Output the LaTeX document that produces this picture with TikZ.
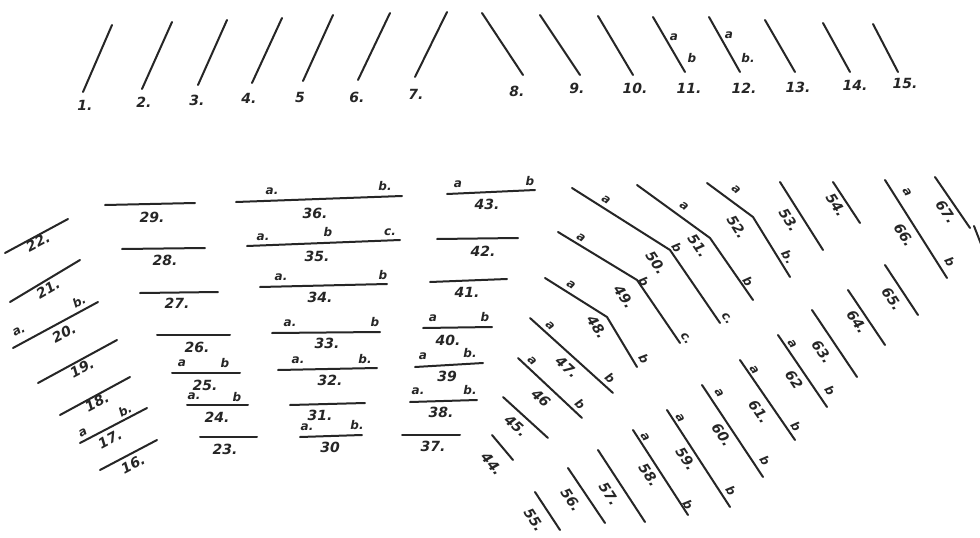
\documentclass[tikz,border=0pt]{standalone}
\usepackage{fontspec}
\setmainfont{DejaVu Sans}
\begin{document}
\begin{tikzpicture}[x=1pt,y=-1pt,
  ln/.style={line width=2pt, line cap=round, line join=round, black!85},
  lb/.style={font=\fontsize{14}{14}\selectfont\bfseries\itshape, inner sep=0pt, black!85},
  lt/.style={font=\fontsize{12}{12}\selectfont\bfseries\itshape, inner sep=0pt, black!85}]
\useasboundingbox (0,0) rectangle (980,538);
\fill[white] (0,0) rectangle (980,538);
% ---------- top row 1-7 ----------
\draw[ln] (112,25) -- (83,92);   \node[lb] (n1) at (85,105) {1.};
\draw[ln] (172,22) -- (142,89);  \node[lb] (n2) at (144,102) {2.};
\draw[ln] (227,20) -- (198,85);  \node[lb] (n3) at (197,100) {3.};
\draw[ln] (282,18) -- (252,83);  \node[lb] (n4) at (249,98) {4.};
\draw[ln] (333,15) -- (303,81);  \node[lb] (n5) at (300,97) {5};
\draw[ln] (390,13) -- (358,80);  \node[lb] (n6) at (357,97) {6.};
\draw[ln] (447,12) -- (415,77);  \node[lb] (n7) at (416,94) {7.};
% ---------- top row 8-15 ----------
\draw[ln] (482,13) -- (523,75);  \node[lb] (n8) at (517,91) {8.};
\draw[ln] (540,15) -- (580,75);  \node[lb] (n9) at (577,88) {9.};
\draw[ln] (598,16) -- (633,75);  \node[lb] (n10) at (635,88) {10.};
\draw[ln] (653,17) -- (685,72);  \node[lb] (n11) at (689,88) {11.};
\node[lt] (n11a) at (674,37) {a}; \node[lt] (n11b) at (692,58) {b};
\draw[ln] (709,17) -- (740,72);  \node[lb] (n12) at (744,88) {12.};
\node[lt] (n12a) at (729,35) {a}; \node[lt] (n12b) at (748,58) {b.};
\draw[ln] (765,20) -- (795,72);  \node[lb] (n13) at (798,87) {13.};
\draw[ln] (823,23) -- (850,72);  \node[lb] (n14) at (855,85) {14.};
\draw[ln] (873,24) -- (898,72);  \node[lb] (n15) at (905,83) {15.};
% ---------- left group 16-22 ----------
\draw[ln] (5,253) -- (68,219);   \node[lb,rotate=28] (n22) at (38,242) {22.};
\draw[ln] (10,302) -- (80,260);  \node[lb,rotate=30] (n21) at (48,289) {21.};
\draw[ln] (13,348) -- (98,302);  \node[lb,rotate=28] (n20) at (64,333) {20.};
\node[lt,rotate=28] (n20a) at (19,331) {a.}; \node[lt,rotate=28] (n20b) at (79,301) {b.};
\draw[ln] (38,383) -- (117,340); \node[lb,rotate=28] (n19) at (82,368) {19.};
\draw[ln] (60,415) -- (130,377); \node[lb,rotate=28] (n18) at (97,402) {18.};
\draw[ln] (80,443) -- (147,408); \node[lb,rotate=28] (n17) at (110,439) {17.};
\node[lt,rotate=28] (n17a) at (83,433) {a}; \node[lt,rotate=28] (n17b) at (125,410) {b.};
\draw[ln] (100,470) -- (157,440); \node[lb,rotate=28] (n16) at (133,464) {16.};
% ---------- column 23-29 ----------
\draw[ln] (105,205) -- (195,203); \node[lb] (n29) at (152,217) {29.};
\draw[ln] (122,249) -- (205,248); \node[lb] (n28) at (165,260) {28.};
\draw[ln] (140,293) -- (218,292); \node[lb] (n27) at (177,303) {27.};
\draw[ln] (157,335) -- (230,335); \node[lb] (n26) at (197,347) {26.};
\draw[ln] (172,373) -- (240,373); \node[lb] (n25) at (205,385) {25.};
\node[lt] (n25a) at (182,363) {a}; \node[lt] (n25b) at (225,363) {b};
\draw[ln] (187,405) -- (248,405); \node[lb] (n24) at (217,417) {24.};
\node[lt] (n24a) at (194,396) {a.}; \node[lt] (n24b) at (237,397) {b};
\draw[ln] (200,437) -- (257,437); \node[lb] (n23) at (225,449) {23.};
% ---------- column 30-36 ----------
\draw[ln] (236,202) -- (402,196); \node[lb] (n36) at (315,213) {36.};
\node[lt] (n36a) at (272,191) {a.}; \node[lt] (n36b) at (385,186) {b.};
\draw[ln] (247,246) -- (400,240); \node[lb] (n35) at (317,256) {35.};
\node[lt] (n35a) at (263,237) {a.}; \node[lt] (n35b) at (328,232) {b}; \node[lt] (n35c) at (390,232) {c.};
\draw[ln] (260,287) -- (387,284); \node[lb] (n34) at (320,297) {34.};
\node[lt] (n34a) at (281,277) {a.}; \node[lt] (n34b) at (383,275) {b};
\draw[ln] (272,333) -- (380,332); \node[lb] (n33) at (327,343) {33.};
\node[lt] (n33a) at (290,323) {a.}; \node[lt] (n33b) at (375,322) {b};
\draw[ln] (278,370) -- (377,368); \node[lb] (n32) at (330,380) {32.};
\node[lt] (n32a) at (298,360) {a.}; \node[lt] (n32b) at (365,359) {b.};
\draw[ln] (290,405) -- (365,403); \node[lb] (n31) at (320,415) {31.};
\draw[ln] (300,437) -- (362,435); \node[lb] (n30) at (330,447) {30};
\node[lt] (n30a) at (307,427) {a.}; \node[lt] (n30b) at (357,425) {b.};
% ---------- column 37-43 ----------
\draw[ln] (447,194) -- (535,190); \node[lb] (n43) at (487,204) {43.};
\node[lt] (n43a) at (458,184) {a}; \node[lt] (n43b) at (530,181) {b};
\draw[ln] (437,239) -- (518,238); \node[lb] (n42) at (483,251) {42.};
\draw[ln] (430,282) -- (507,279); \node[lb] (n41) at (467,292) {41.};
\draw[ln] (423,328) -- (492,327); \node[lb] (n40) at (448,340) {40.};
\node[lt] (n40a) at (433,318) {a}; \node[lt] (n40b) at (485,317) {b};
\draw[ln] (415,367) -- (483,363); \node[lb] (n39) at (447,376) {39};
\node[lt] (n39a) at (423,356) {a}; \node[lt] (n39b) at (470,353) {b.};
\draw[ln] (410,402) -- (477,400); \node[lb] (n38) at (441,412) {38.};
\node[lt] (n38a) at (418,391) {a.}; \node[lt] (n38b) at (470,390) {b.};
\draw[ln] (402,435) -- (460,435); \node[lb] (n37) at (433,446) {37.};
% ---------- bent lines 48-52 ----------
\draw[ln] (572,188) -- (670,250) -- (720,323);
\node[lt,rotate=-32] (n50a) at (606,200) {a}; \node[lb,rotate=-56] (n50) at (656,263) {50.};
\node[lt,rotate=-56] (n50b) at (677,248) {b}; \node[lt,rotate=-56] (n50c) at (727,319) {c.};
\draw[ln] (637,185) -- (710,238) -- (753,300);
\node[lt,rotate=-36] (n51a) at (684,206) {a}; \node[lb,rotate=-55] (n51) at (698,246) {51.};
\node[lt,rotate=-55] (n51b) at (748,281) {b};
\draw[ln] (558,232) -- (637,280) -- (680,343);
\node[lt,rotate=-31] (n49a) at (581,238) {a}; \node[lb,rotate=-56] (n49) at (624,297) {49.};
\node[lt,rotate=-56] (n49b) at (644,282) {b}; \node[lt,rotate=-56] (n49c) at (686,339) {c.};
\draw[ln] (545,278) -- (607,317) -- (637,367);
\node[lt,rotate=-32] (n48a) at (571,285) {a}; \node[lb,rotate=-58] (n48) at (597,327) {48.};
\node[lt,rotate=-58] (n48b) at (644,359) {b};
\draw[ln] (707,183) -- (753,217) -- (790,277);
\node[lt,rotate=-40] (n52a) at (736,190) {a}; \node[lb,rotate=-58] (n52) at (737,227) {52.};
\node[lt,rotate=-58] (n52b) at (788,257) {b.};
% ---------- straight diagonals 44-47 ----------
\draw[ln] (530,318) -- (613,393); \node[lb,rotate=-42] (n47) at (567,367) {47.};
\node[lt,rotate=-42] (n47a) at (550,326) {a}; \node[lt,rotate=-42] (n47b) at (610,378) {b};
\draw[ln] (518,358) -- (582,418); \node[lb,rotate=-43] (n46) at (541,398) {46};
\node[lt,rotate=-43] (n46a) at (532,361) {a}; \node[lt,rotate=-43] (n46b) at (580,404) {b};
\draw[ln] (503,397) -- (548,438); \node[lb,rotate=-42] (n45) at (516,426) {45.};
\draw[ln] (492,435) -- (513,460); \node[lb,rotate=-50] (n44) at (492,464) {44.};
% ---------- bottom diagonals 55-67 ----------
\draw[ln] (535,492) -- (560,530); \node[lb,rotate=-57] (n55) at (534,520) {55.};
\draw[ln] (568,468) -- (605,523); \node[lb,rotate=-56] (n56) at (571,500) {56.};
\draw[ln] (598,450) -- (645,522); \node[lb,rotate=-57] (n57) at (609,494) {57.};
\draw[ln] (633,430) -- (688,515); \node[lb,rotate=-57] (n58) at (649,475) {58.};
\node[lt,rotate=-57] (n58a) at (645,437) {a}; \node[lt,rotate=-57] (n58b) at (688,505) {b};
\draw[ln] (667,410) -- (730,507); \node[lb,rotate=-57] (n59) at (686,459) {59.};
\node[lt,rotate=-57] (n59a) at (680,418) {a}; \node[lt,rotate=-57] (n59b) at (731,491) {b};
\draw[ln] (702,385) -- (763,477); \node[lb,rotate=-56] (n60) at (722,435) {60.};
\node[lt,rotate=-56] (n60a) at (719,393) {a}; \node[lt,rotate=-56] (n60b) at (765,461) {b};
\draw[ln] (740,360) -- (795,440); \node[lb,rotate=-55] (n61) at (759,412) {61.};
\node[lt,rotate=-55] (n61a) at (754,370) {a}; \node[lt,rotate=-55] (n61b) at (796,426) {b};
\draw[ln] (778,335) -- (827,407); \node[lb,rotate=-56] (n62) at (794,380) {62};
\node[lt,rotate=-56] (n62a) at (792,344) {a}; \node[lt,rotate=-56] (n62b) at (830,391) {b};
\draw[ln] (812,310) -- (857,377); \node[lb,rotate=-56] (n63) at (822,352) {63.};
\draw[ln] (848,290) -- (885,345); \node[lb,rotate=-56] (n64) at (857,322) {64.};
\draw[ln] (885,265) -- (918,315); \node[lb,rotate=-57] (n65) at (892,299) {65.};
\draw[ln] (885,180) -- (947,278); \node[lb,rotate=-58] (n66) at (904,235) {66.};
\node[lt,rotate=-58] (n66a) at (907,192) {a}; \node[lt,rotate=-58] (n66b) at (950,262) {b};
\draw[ln] (935,177) -- (970,228); \node[lb,rotate=-56] (n67) at (946,212) {67.};
\draw[ln] (780,182) -- (823,250); \node[lb,rotate=-58] (n53) at (789,220) {53.};
\draw[ln] (833,182) -- (860,223); \node[lb,rotate=-57] (n54) at (836,205) {54.};
% cut-off mark at right edge
\draw[ln] (974,226) -- (981,244);
\end{tikzpicture}
\end{document}
